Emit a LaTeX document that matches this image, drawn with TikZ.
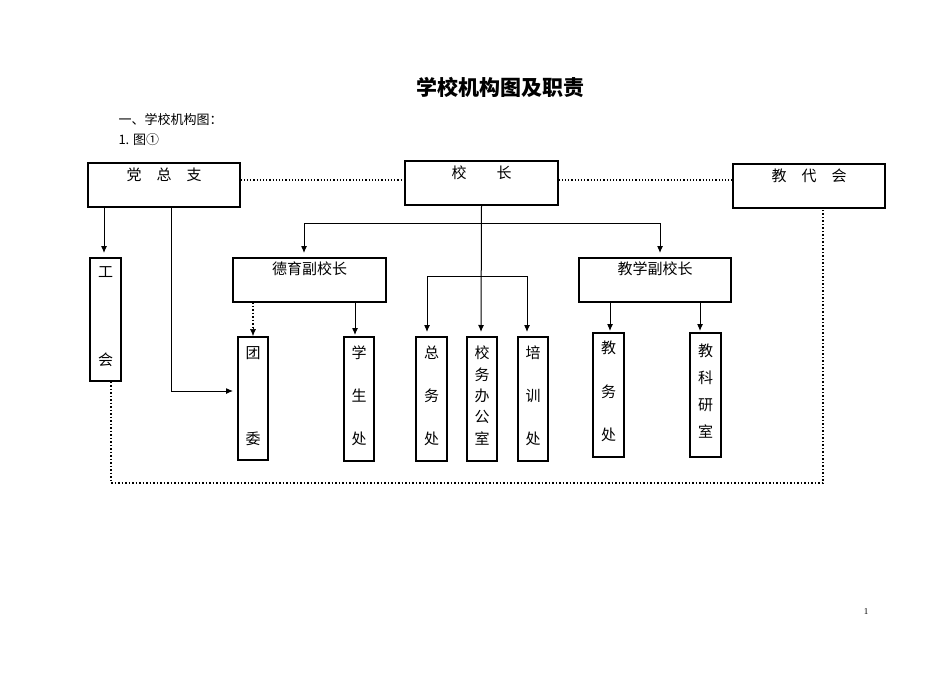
\documentclass[tikz,border=0pt]{standalone}
\usepackage{fontspec}
\usetikzlibrary{arrows.meta}
\setmainfont{Liberation Serif}
\newfontfamily\cjk{Noto Sans CJK SC}
\begin{document}
\begin{tikzpicture}[x=1pt,y=-1pt,
 box/.style={draw,line width=1.1pt,inner sep=0},
 lbl/.style={font=\cjk\fontsize{15}{17}\selectfont,anchor=north,inner sep=0},
 arr/.style={-{Latex[length=7pt,width=6pt]},line width=1pt},
 dot/.style={dotted,line width=1.5pt}]
\useasboundingbox (0,0) rectangle (950,672);
\node[font=\cjk\bfseries\fontsize{21}{24}\selectfont] (title) at (500,87) {学校机构图及职责};
\node[font=\cjk\fontsize{13}{15}\selectfont,anchor=west] (h1) at (115,120) {一、学校机构图：};
\node[font=\cjk\fontsize{13}{15}\selectfont,anchor=west] (h2) at (115,140) {1. 图①};
\node[font=\fontsize{9}{10}\selectfont] (pg) at (866,612) {1};
% boxes
\node[box,minimum width=152,minimum height=44] (dzz) at (164,185) {};
\node[lbl] at (164,168) {党\quad 总\quad 支};
\node[box,minimum width=153,minimum height=44] (xz) at (481.5,183) {};
\node[lbl] at (481.5,166) {校\qquad 长};
\node[box,minimum width=152,minimum height=44] (jdh) at (809,186) {};
\node[lbl] at (809,169) {教\quad 代\quad 会};
\node[box,minimum width=31,minimum height=123] (gh) at (105.5,319.5) {};
\node[lbl] at (105.5,266) {工};
\node[lbl] at (105.5,353) {会};
\node[box,minimum width=153,minimum height=44] (dy) at (309.5,280) {};
\node[lbl] at (309.5,262) {德育副校长};
\node[box,minimum width=152,minimum height=44] (jx) at (655,280) {};
\node[lbl] at (655,262) {教学副校长};
\node[box,minimum width=30,minimum height=123] (tw) at (253,398.5) {};
\node[lbl] at (253,346) {团};
\node[lbl] at (253,432) {委};
\node[box,minimum width=30,minimum height=124] (xs) at (359,399) {};
\node[lbl,align=center,font=\cjk\fontsize{15}{43}\selectfont] at (359,346) {学\\生\\处};
\node[box,minimum width=31,minimum height=124] (zw) at (431.5,399) {};
\node[lbl,align=center,font=\cjk\fontsize{15}{43}\selectfont] at (431.5,346) {总\\务\\处};
\node[box,minimum width=30,minimum height=124] (xw) at (482,399) {};
\node[lbl,align=center,font=\cjk\fontsize{15}{21.3}\selectfont] at (482,346) {校\\务\\办\\公\\室};
\node[box,minimum width=30,minimum height=124] (px) at (533,399) {};
\node[lbl,align=center,font=\cjk\fontsize{15}{43}\selectfont] at (533,346) {培\\训\\处};
\node[box,minimum width=31,minimum height=124] (jw) at (608.5,395) {};
\node[lbl,align=center,font=\cjk\fontsize{15}{43.5}\selectfont] at (608.5,341) {教\\务\\处};
\node[box,minimum width=31,minimum height=124] (jk) at (705.5,395) {};
\node[lbl,align=center,font=\cjk\fontsize{15}{27}\selectfont] at (705.5,344) {教\\科\\研\\室};
% connectors
\draw[dotted,line width=1.2pt] (dzz.east |- 0,180) -- (xz.west |- 0,180);
\draw[dotted,line width=1.2pt] (xz.east |- 0,180) -- (jdh.west |- 0,180);
\draw[arr] (104,208) -- (104,253);
\draw[arr] (171,207) -- (171,391) -- (233,391);
\draw[arr] (xz.south) -- (481,332);
\draw[line width=1pt] (304,223) -- (660,223);
\draw[arr] (304,223) -- (304,253);
\draw[arr] (660,223) -- (660,253);
\draw[line width=1pt] (427,276) -- (527,276);
\draw[arr] (427,276) -- (427,332);
\draw[arr] (527,276) -- (527,332);
\draw[dotted,line width=1.5pt] (253,302) -- (253,330);
\draw[-{Latex[length=7pt,width=6pt]},line width=0.5pt] (253,328) -- (253,336);
\draw[arr] (355,302) -- (355,335);
\draw[arr] (610,302) -- (610,331);
\draw[arr] (700,302) -- (700,331);
\draw[dot] (gh.south -| 111,0) -- (111,483) -- (823,483) -- (jdh.south -| 823,0);
\end{tikzpicture}
\end{document}
